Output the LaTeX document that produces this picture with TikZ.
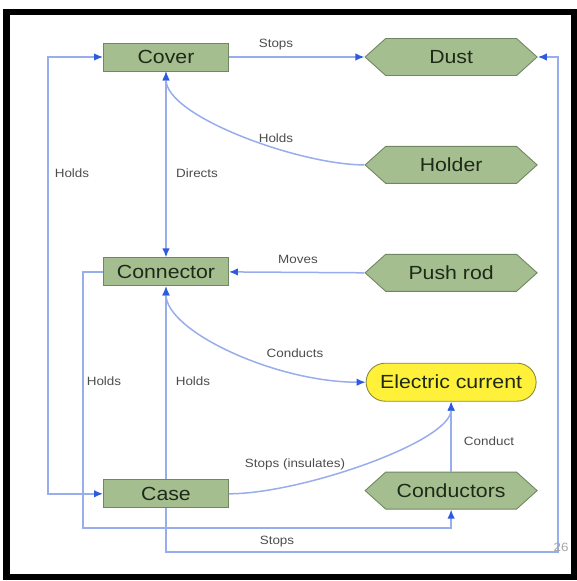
\documentclass[tikz,border=0pt]{standalone}
\usepackage{fontspec}
\setmainfont{Liberation Sans}[FakeStretch=1.12]
\usepackage{tikz}
\usetikzlibrary{arrows.meta, positioning, shapes.symbols}

\definecolor{partgreen}{HTML}{A5BE90}
\definecolor{partedge}{HTML}{6F8862}
\definecolor{parttext}{HTML}{1E2A18}
\definecolor{flowyellow}{HTML}{FFF03A}
\definecolor{flowedge}{HTML}{8A8A3A}
\definecolor{linkblue}{HTML}{98ADEC}
\definecolor{tipblue}{HTML}{2D5BE0}
\definecolor{labelgrey}{HTML}{4C4C4C}

\begin{document}
\begin{tikzpicture}[
    x=1pt, y=1pt,
    every node/.style={font=\fontsize{12}{14}\selectfont},
    part/.style={
        rectangle,
        draw=partedge,
        fill=partgreen,
        line width=0.9pt,
        minimum width=125pt,
        minimum height=28pt,
        inner sep=0pt,
        text=parttext,
        font=\fontsize{19}{22}\selectfont
    },
    outer/.style={
        signal,
        signal to=west and east,
        signal pointer angle=84,
        draw=partedge,
        fill=partgreen,
        line width=0.9pt,
        minimum width=172pt,
        minimum height=37pt,
        inner sep=0pt,
        text=parttext,
        font=\fontsize{19}{22}\selectfont
    },
    flow/.style={
        rectangle,
        rounded corners=19pt,
        draw=flowedge,
        fill=flowyellow,
        line width=0.9pt,
        minimum width=170pt,
        minimum height=38pt,
        inner sep=0pt,
        text=parttext,
        font=\fontsize{19}{22}\selectfont
    },
    lbl/.style={text=labelgrey, inner sep=1pt},
    link/.style={draw=linkblue, line width=1.5pt,
        -{Latex[length=9pt, width=7.5pt, color=tipblue]}},
    twoway/.style={draw=linkblue, line width=1.5pt,
        {Latex[length=9pt, width=7.5pt, color=tipblue]}-{Latex[length=9pt, width=7.5pt, color=tipblue]}}
]

\useasboundingbox (0,0) rectangle (577,-581);
\draw[line width=6.5pt] (6.5,-12) rectangle (574,-577);

\node[part] (cover) at (166,-57) {Cover};
\node[part, below=186pt of cover] (connector) {Connector};
\node[part, below=193pt of connector] (case) {Case};

\node[outer, right=135.5pt of cover] (dust) {Dust};
\node[outer, below=70pt of dust] (holder) {Holder};
\node[outer, below=70pt of holder] (pushrod) {Push rod};
\node[flow, below=71pt of pushrod] (current) {Electric current};
\node[outer, below=70pt of current] (conductors) {Conductors};

\coordinate (leftrail) at (48,-300);
\coordinate (holdrail) at (83,-528);
\coordinate (stoprail) at (558,-552);

\draw[link] (cover.east) -- (dust.west);
\draw[link] (holder.west) .. controls +(-65,0) and +(0,-45) .. (cover.south);
\draw[twoway] (cover.south) -- (connector.north);
\draw[twoway] (case.west) -| (leftrail) |- (cover.west);
\draw[link] (pushrod.west) -- (connector.east);
\draw[twoway] (connector.south) .. controls +(0,-45) and +(-90,0) .. (current.west);
\draw[link] (connector.west) -| (holdrail) -| (conductors.south);
\draw[link] (case.north) -- (connector.south);
\draw[link] (case.east) .. controls +(72,0) and +(0,-40) .. (current.south);
\draw[link] (conductors.north) -- (current.south);
\draw[link] (case.south) |- (stoprail) |- (dust.east);

\node[lbl] (l-stops1) at (276,-45) {Stops};
\node[lbl] (l-holds1) at (276,-138) {Holds};
\node[lbl] (l-directs) at (197,-173) {Directs};
\node[lbl] (l-holds2) at (72,-173) {Holds};
\node[lbl] (l-moves) at (298,-259) {Moves};
\node[lbl] (l-conducts) at (295,-353) {Conducts};
\node[lbl] (l-holds3) at (104,-381) {Holds};
\node[lbl] (l-holds4) at (193,-381) {Holds};
\node[lbl] (l-conduct) at (489,-441) {Conduct};
\node[lbl] (l-insul) at (295,-464) {Stops (insulates)};
\node[lbl] (l-stops2) at (277,-542) {Stops};
\node[lbl, text=gray!70] (l-page) at (561,-547) {26};

\end{tikzpicture}
\end{document}
